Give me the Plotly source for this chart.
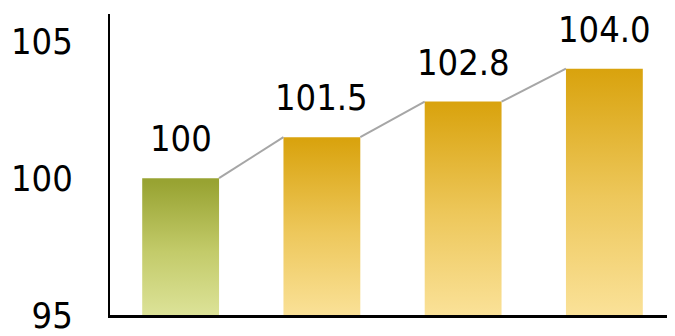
import plotly.graph_objects as go

categories = ["A", "B", "C", "D"]
values = [100, 101.5, 102.8, 104.0]
labels = ["100", "101.5", "102.8", "104.0"]
y_ticks = [95, 100, 105]

green_scale = [[0, "#dfe59d"], [0.5, "#c3cb6a"], [1, "#98a332"]]
gold_scale = [[0, "#fbe39c"], [0.5, "#edc75a"], [1, "#d9a30e"]]
bar_scales = [green_scale, gold_scale, gold_scale, gold_scale]

BASE = 95
HALF_W = 0.272
FONT = "DejaVu Sans Condensed, DejaVu Sans, Verdana, sans-serif"
FS = 36

fig = go.Figure()

for i, (v, cs) in enumerate(zip(values, bar_scales)):
    fig.add_trace(go.Scatter(
        x=[i - HALF_W, i + HALF_W, i + HALF_W, i - HALF_W, i - HALF_W],
        y=[BASE, BASE, v, v, BASE],
        mode="lines",
        line=dict(width=0, color="rgba(0,0,0,0)"),
        fill="toself",
        fillgradient=dict(type="vertical", colorscale=cs, start=BASE, stop=v),
        hoverinfo="skip",
        showlegend=False,
    ))

# connector lines between bar tops
lx, ly = [], []
for i in range(len(values) - 1):
    lx += [i + HALF_W, i + 1 - HALF_W, None]
    ly += [values[i], values[i + 1], None]
fig.add_trace(go.Scatter(x=lx, y=ly, mode="lines",
                         line=dict(color="#a6a6a6", width=2),
                         hoverinfo="skip", showlegend=False))

for i, (v, t) in enumerate(zip(values, labels)):
    fig.add_annotation(x=i, y=v, text=t, showarrow=False, yanchor="bottom",
                       yshift=17, font=dict(family=FONT, size=FS, color="#000000"))

fig.update_layout(
    width=667, height=328,
    margin=dict(l=102, r=0, t=6, b=14),
    paper_bgcolor="white", plot_bgcolor="white",
    font=dict(family=FONT, size=FS, color="#000000"),
    showlegend=False,
)
fig.update_xaxes(range=[-0.5, 3.5], showgrid=False, zeroline=False,
                 showticklabels=False, ticks="",
                 showline=True, linecolor="black", linewidth=3)
fig.update_yaxes(range=[95, 106], tickvals=y_ticks, ticktext=[str(t) for t in y_ticks],
                 showgrid=False, zeroline=False, ticks="",
                 showline=True, linecolor="black", linewidth=2,
                 ticklabelstandoff=28, ticklabeloverflow="allow")

fig.write_html("out.html")
